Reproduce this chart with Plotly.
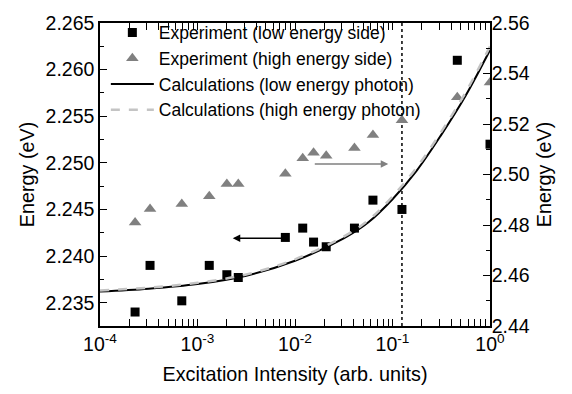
import math
import plotly.graph_objects as go

# Experiment (low energy side) - left axis
low_x = [2.29e-4, 3.26e-4, 6.9e-4, 1.32e-3, 2.0e-3, 2.62e-3, 7.96e-3, 0.0120, 0.0155, 0.0209, 0.0407, 0.063, 0.125, 0.462, 1.0]
low_y = [2.2340, 2.2390, 2.2352, 2.2390, 2.2380, 2.2377, 2.2420, 2.2430, 2.2415, 2.2410, 2.2430, 2.2460, 2.2450, 2.2610, 2.2520]

# Experiment (high energy side) - right axis
high_x = [2.29e-4, 3.26e-4, 6.9e-4, 1.32e-3, 2.0e-3, 2.62e-3, 7.96e-3, 0.0120, 0.0155, 0.0209, 0.0407, 0.063, 0.125, 0.462, 1.0]
high_y = [2.4810, 2.4863, 2.4883, 2.4914, 2.4962, 2.4962, 2.5003, 2.5064, 2.5086, 2.5074, 2.5105, 2.5156, 2.5215, 2.5306, 2.5364]

# Calculations
calc_x = [1e-4, 3.16e-4, 1e-3, 3.16e-3, 1e-2, 3.16e-2, 5.62e-2, 0.1, 0.178, 0.316, 0.562, 1.0]
calc_low_y = [2.2362, 2.2365, 2.2370, 2.2379, 2.2395, 2.2419, 2.2436, 2.2461, 2.2492, 2.2530, 2.2572, 2.2621]
calc_high_y = [2.4541, 2.4552, 2.4571, 2.4604, 2.4664, 2.4754, 2.4818, 2.4913, 2.5029, 2.5169, 2.5325, 2.5507]

marker_x = 0.125
left_range = [2.2325, 2.265]
right_range = [2.44, 2.56]

left_ticks = [2.235, 2.240, 2.245, 2.250, 2.255, 2.260, 2.265]
right_ticks = [2.44, 2.46, 2.48, 2.50, 2.52, 2.54, 2.56]
x_ticks = [1e-4, 1e-3, 1e-2, 1e-1, 1e0]
x_ticktext = ["10<sup>-4</sup>", "10<sup>-3</sup>", "10<sup>-2</sup>", "10<sup>-1</sup>", "10<sup>0</sup>"]

arrow_left = dict(tail=7.9e-3, head=2.3e-3, y=2.2419)
arrow_right = dict(tail=0.0154, head=0.0905, y=2.5042)

FONT = "Liberation Sans, Arial, sans-serif"
GRAY = "#808080"

fig = go.Figure()
fig.add_trace(go.Scatter(x=low_x, y=low_y, mode="markers", name="Experiment (low energy side)",
                         marker=dict(symbol="square", size=9, color="black"), yaxis="y"))
fig.add_trace(go.Scatter(x=high_x, y=high_y, mode="markers", name="Experiment (high energy side)",
                         marker=dict(symbol="triangle-up", size=11, color=GRAY), yaxis="y2"))
fig.add_trace(go.Scatter(x=calc_x, y=calc_low_y, mode="lines", name="Calculations (low energy photon)",
                         line=dict(color="black", width=2, shape="spline", smoothing=1.0), yaxis="y"))
fig.add_trace(go.Scatter(x=calc_x, y=calc_high_y, mode="lines", name="Calculations (high energy photon)",
                         line=dict(color="#c4c4c4", width=2.5, dash="dash", shape="spline", smoothing=1.0),
                         yaxis="y2"))
fig.add_trace(go.Scatter(x=[marker_x, marker_x], y=left_range, mode="lines", showlegend=False,
                         line=dict(color="black", width=1.5, dash="dot"), yaxis="y", hoverinfo="skip"))

minor_x = [k * 10 ** e for e in range(-4, 0) for k in range(2, 10)]

fig.update_layout(
    width=572, height=394,
    margin=dict(l=100, r=82, t=13, b=67),
    paper_bgcolor="white", plot_bgcolor="white",
    font=dict(family=FONT, size=19, color="black"),
    showlegend=True,
    legend=dict(x=0.015, y=1.028, xanchor="left", yanchor="top", bgcolor="rgba(0,0,0,0)",
                font=dict(size=17.5, family=FONT), borderwidth=0, tracegroupgap=0, itemwidth=43),
    xaxis=dict(type="log", range=[-4, 0], tickvals=x_ticks, ticktext=x_ticktext,
               ticks="inside", ticklen=7, tickcolor="black", showline=True, linecolor="black",
               linewidth=1.5, mirror="allticks", showgrid=False, zeroline=False,
               minor=dict(tickvals=minor_x, ticks="inside", ticklen=4, tickcolor="black", showgrid=False),
               title=dict(text="Excitation Intensity (arb. units)", font=dict(size=19.8), standoff=13),
               tickfont=dict(size=19.5)),
    yaxis=dict(range=left_range, tickvals=left_ticks, tickformat=".3f", ticks="inside", ticklen=7,
               tickcolor="black", showline=True, linecolor="black", linewidth=1.5, mirror=False,
               showgrid=False, zeroline=False, ticklabeloverflow="allow",
               minor=dict(dtick=0.0025, ticks="inside", ticklen=4, tickcolor="black", showgrid=False),
               title=dict(text="Energy (eV)", font=dict(size=19.8), standoff=6),
               tickfont=dict(size=19.5)),
    yaxis2=dict(range=right_range, tickvals=right_ticks, tickformat=".2f", overlaying="y", side="right",
                ticks="inside", ticklen=7, tickcolor="black", showline=True, linecolor="black",
                linewidth=1.5, showgrid=False, zeroline=False, ticklabeloverflow="allow",
                ticklabelstandoff=-4,
                minor=dict(dtick=0.01, ticks="inside", ticklen=4, tickcolor="black", showgrid=False),
                title=dict(text="Energy (eV)", font=dict(size=19.8), standoff=8),
                tickfont=dict(size=19.5)),
    annotations=[
        dict(x=math.log10(arrow_left["head"]), y=arrow_left["y"], xref="x", yref="y",
             ax=math.log10(arrow_left["tail"]), ay=arrow_left["y"], axref="x", ayref="y",
             showarrow=True, arrowhead=2, arrowsize=1, arrowwidth=1.5, arrowcolor="black", text=""),
        dict(x=math.log10(arrow_right["head"]), y=arrow_right["y"], xref="x", yref="y2",
             ax=math.log10(arrow_right["tail"]), ay=arrow_right["y"], axref="x", ayref="y2",
             showarrow=True, arrowhead=2, arrowsize=1, arrowwidth=1.5, arrowcolor=GRAY, text=""),
    ],
)

fig.write_html("out.html", config={"displayModeBar": False},
               post_script="document.body.style.margin='0';")
